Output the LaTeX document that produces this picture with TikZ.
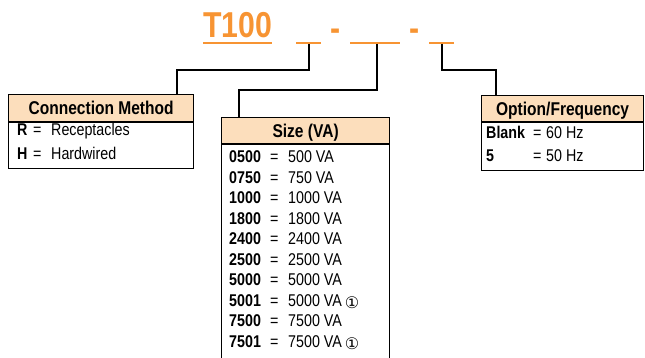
\documentclass[tikz,border=0pt]{standalone}
\usepackage{fontspec}
\setmainfont{Liberation Sans}[FakeStretch=0.84]
\newfontfamily\circfont{DejaVu Sans}
\usetikzlibrary{positioning}
\definecolor{partorange}{RGB}{247,148,51}
\definecolor{headfill}{RGB}{252,222,188}
\newcommand{\circone}{\hspace{3pt}\raisebox{-2pt}{\circfont\fontsize{16}{16}\selectfont ①}}

\begin{document}
\begin{tikzpicture}
[
x=1pt, y=-1pt,
slot/.style={fill=partorange, inner sep=0pt, minimum height=2pt},
head/.style={draw, line width=1.2pt, fill=headfill, inner sep=0pt, anchor=north west,
             text height=13pt, text depth=0pt, font=\fontsize{18.5}{19}\selectfont\bfseries},
body/.style={draw, line width=1.2pt, inner sep=0pt, anchor=north west},
wire/.style={line width=2pt},
entry/.style={anchor=base west, inner sep=0pt, font=\fontsize{17}{17}\selectfont}
]
\tikzset{code/.style={entry, font=\fontsize{17}{17}\selectfont\bfseries},
         dashmark/.style={anchor=base, inner sep=0pt, text=partorange, font=\fontsize{36}{36}\selectfont\bfseries}}
\useasboundingbox (0,0) rectangle (645,358);

\node[anchor=base west, inner sep=0pt, text=partorange, font=\fontsize{36}{36}\selectfont\bfseries] (model) at (203,38) {T100};
\node[slot, minimum width=69pt] (modelline) at (237.5,42.7) {};
\node[slot, minimum width=25pt] (connslot) at (308.5,42.7) {};
\node[dashmark] (dashA) at (336,40.5) {-};
\node[slot, minimum width=50pt] (sizeslot) at (375,42.7) {};
\node[dashmark] (dashB) at (414.5,40.5) {-};
\node[slot, minimum width=25pt] (optslot) at (441.5,42.7) {};

\node[head, minimum width=185pt, minimum height=27pt] (connhead) at (8,94) {Connection Method};
\node[body, minimum width=185pt, minimum height=46pt] (connbody) at (connhead.south west) {};
\foreach \code/\val/\y in {R/Receptacles/136, H/Hardwired/159.5} {
  \node[code] (conn\code) at (17,\y) {\code};
  \node[entry] (conn\code-eq) at (33,\y) {=};
  \node[entry] (conn\code-val) at (51,\y) {\val};
}

\node[head, minimum width=168pt, minimum height=26pt] (sizehead) at (221,117) {Size (VA)};
\node[body, minimum width=168pt, minimum height=230pt] (sizebody) at (sizehead.south west) {};
\foreach \code/\val/\mark [count=\i from 0] in {0500/500/{}, 0750/750/{}, 1000/1000/{}, 1800/1800/{},
    2400/2400/{}, 2500/2500/{}, 5000/5000/{}, 5001/5000/\circone, 7500/7500/{}, 7501/7500/\circone} {
  \node[code] (size\code) at (229,162.8+20.5*\i) {\code};
  \node[entry] (size\code-eq) at (270,162.8+20.5*\i) {=};
  \node[entry] (size\code-val) at (288,162.8+20.5*\i) {\val\ VA\mark};
}

\node[head, minimum width=162pt, minimum height=26pt] (opthead) at (481,95) {Option/Frequency};
\node[body, minimum width=162pt, minimum height=48pt] (optbody) at (opthead.south west) {};
\foreach \code/\val/\y in {Blank/60/139, 5/50/161.5} {
  \node[code] (opt\code) at (486,\y) {\code};
  \node[entry] (opt\code-eq) at (533,\y) {=};
  \node[entry] (opt\code-val) at (546,\y) {\val\ Hz};
}

\draw[wire] (connslot.south) -- ++(0,26) -| ([xshift=-17pt]connhead.north east);
\draw[wire] ([xshift=2pt]sizeslot.south) -- ++(0,46) -| ([xshift=18pt]sizehead.north west);
\draw[wire] (optslot.south) -- ++(0,26) -| ([xshift=15pt]opthead.north west);
\end{tikzpicture}
\end{document}
